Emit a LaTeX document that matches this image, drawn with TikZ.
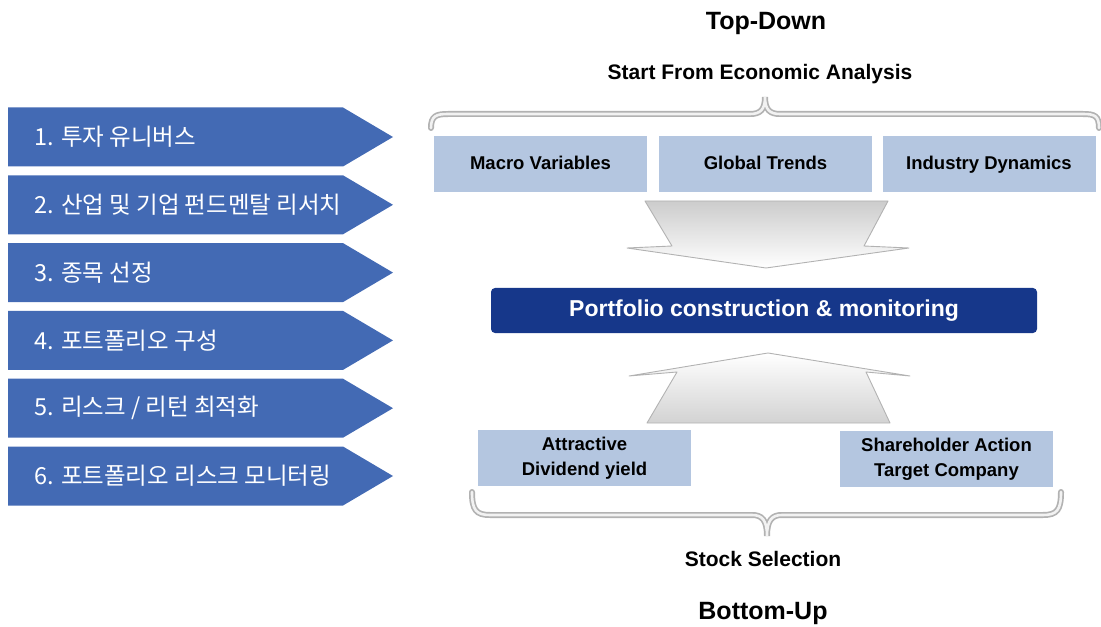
\documentclass[tikz,border=0pt]{standalone}
\usepackage{fontspec}
\setmainfont{Liberation Sans}
\newfontfamily\kofont{Noto Sans CJK KR}
\definecolor{stageblue}{RGB}{67,106,180}
\definecolor{boxblue}{RGB}{180,198,224}
\definecolor{navy}{RGB}{22,55,138}
\tikzset{
  stagetext/.style={anchor=west, text=white, font=\kofont\fontsize{23.5bp}{26bp}\selectfont},
  factor/.style={fill=boxblue, minimum width=213bp, minimum height=56bp, align=center,
    font=\bfseries\fontsize{18.5bp}{25bp}\selectfont},
  onefactor/.style={factor, text height=13.5bp, text depth=4bp},
  heading/.style={anchor=base, font=\bfseries\fontsize{21bp}{24bp}\selectfont},
  bigheading/.style={anchor=base, font=\bfseries\fontsize{25bp}{28bp}\selectfont},
  bracket/.style={line width=6bp, gray!60, line cap=round},
  bracketin/.style={line width=2.6bp, gray!10, line cap=round},
  flow/.style={draw=gray!60, line width=0.9bp, line join=round}
}
\begin{document}
\begin{tikzpicture}[x=1bp,y=-1bp]
\useasboundingbox (0,0) rectangle (1101,627);
%%% the six steps on the left
\foreach \i/\t in {1/{1. 투자 유니버스},2/{2. 산업 및 기업 펀드멘탈 리서치},3/{3. 종목 선정},
  4/{4. 포트폴리오 구성},5/{5. 리스크 / 리턴 최적화},6/{6. 포트폴리오 리스크 모니터링}}{
  \pgfmathsetmacro\yy{137+67.8*(\i-1)}
  \fill[stageblue] (8,\yy-29.5) -- (343,\yy-29.5) -- (393,\yy) -- (343,\yy+29.5) -- (8,\yy+29.5) -- cycle;
  \node[stagetext] (stage\i) at (31,\yy) {\t};
}
%%% top-down side
\node[bigheading] (topdown) at (766,30) {Top-Down};
\node[heading] (startfrom) at (760,80) {Start From Economic Analysis};
\draw[bracket] (431,128) .. controls (431,116) and (436,114) .. (448,114) -- (750,114)
  .. controls (760,114) and (765,110) .. (765,97) .. controls (765,110) and (770,114) .. (780,114)
  -- (1083,114) .. controls (1095,114) and (1099,116) .. (1099,128);
\draw[bracketin] (431,128) .. controls (431,116) and (436,114) .. (448,114) -- (750,114)
  .. controls (760,114) and (765,110) .. (765,97) .. controls (765,110) and (770,114) .. (780,114)
  -- (1083,114) .. controls (1095,114) and (1099,116) .. (1099,128);
\node[onefactor] (macro) at (540.5,164.5) {Macro Variables};
\node[onefactor] (trends) at (765.5,164.5) {Global Trends};
\node[onefactor] (industry) at (989,164.5) {Industry Dynamics};
% big arrow down
\shade[flow, top color=gray!40, bottom color=white] (645,201) -- (888,201) -- (864,246) -- (909,248)
  -- (766,268) -- (627,248) -- (672,246) -- cycle;
\node[fill=navy, rounded corners=4bp, minimum width=546bp, minimum height=45bp, text=white,
  font=\bfseries\fontsize{23bp}{26bp}\selectfont] (portfolio) at (764,310.5)
  {Portfolio construction \& monitoring};
%%% bottom-up side
% big arrow up
\shade[flow, top color=white, bottom color=gray!35] (768,353) -- (910,376) -- (866,372) -- (890,423)
  -- (647,423) -- (677,372) -- (629,376) -- cycle;
\node[factor] (dividend) at (584.5,458) {Attractive\\Dividend yield};
\node[factor] (activism) at (946.5,459) {Shareholder Action\\Target Company};
\draw[bracket] (472,492) .. controls (472,510) and (476,515) .. (490,515) -- (752,515)
  .. controls (762,515) and (767,520) .. (767,536) .. controls (767,520) and (772,515) .. (782,515)
  -- (1043,515) .. controls (1057,515) and (1061,510) .. (1061,492);
\draw[bracketin] (472,492) .. controls (472,510) and (476,515) .. (490,515) -- (752,515)
  .. controls (762,515) and (767,520) .. (767,536) .. controls (767,520) and (772,515) .. (782,515)
  -- (1043,515) .. controls (1057,515) and (1061,510) .. (1061,492);
\node[heading] (stocksel) at (763,566) {Stock Selection};
\node[bigheading] (bottomup) at (763,619) {Bottom-Up};
\end{tikzpicture}
\end{document}
